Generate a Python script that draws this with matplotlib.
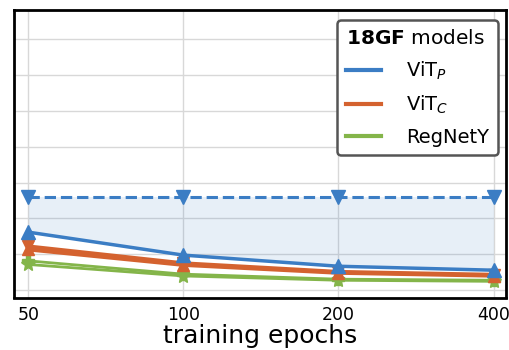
import matplotlib.pyplot as plt
import numpy as np

epochs = ['50', '100', '200', '400']
vit_p_ref = [2.61, 2.61, 2.61, 2.61]      # dashed upper reference
vit_p = [1.62, 0.98, 0.67, 0.56]
vit_c_a = [1.22, 0.75, 0.51, 0.43]
vit_c_b = [1.14, 0.71, 0.49, 0.41]
regnet_a = [0.82, 0.45, 0.31, 0.28]
regnet_b = [0.72, 0.40, 0.28, 0.25]

blue = '#3b7dc4'
orange = '#d4622f'
green = '#84b54a'

x = np.arange(len(epochs))

fig, ax = plt.subplots(figsize=(5.09, 3.5), dpi=100)

ax.fill_between(x, vit_p, vit_p_ref, color=blue, alpha=0.12, lw=0)
ax.plot(x, vit_p_ref, color=blue, ls='--', lw=2.2, marker='v', ms=9.5)

ax.plot(x, regnet_a, color=green, lw=2, marker='P', ms=9)
ax.plot(x, regnet_b, color=green, lw=2, marker='*', ms=10)
ax.plot(x, vit_c_a, color=orange, lw=3, marker='v', ms=9)
ax.plot(x, vit_c_b, color=orange, lw=3, marker='^', ms=9)
ax.plot(x, vit_p, color=blue, lw=2.5, marker='^', ms=9.5)

ax.set_xticks(x)
ax.set_xticklabels(epochs, fontsize=12.5)
ax.set_yticks(np.arange(0, 8))
ax.set_yticklabels([])
ax.tick_params(axis='both', length=0, pad=6)
ax.set_xlim(-0.09, 3.08)
ax.set_ylim(-0.2, 7.8)
ax.grid(True, color='#d8d8d8', lw=1)
ax.set_axisbelow(True)
for s in ax.spines.values():
    s.set_linewidth(2)
    s.set_color('black')
ax.set_xlabel('training epochs', fontsize=18, labelpad=0)

handles = [plt.Line2D([], [], color=c, lw=3) for c in (blue, orange, green)]
leg = ax.legend(handles, ['ViT$_P$', 'ViT$_C$', 'RegNetY'],
                title=r'$\bf{18GF}$ models', fontsize=14, title_fontsize=14.5,
                loc='upper right', frameon=True, fancybox=True,
                handlelength=1.8, handletextpad=1.3, borderpad=0.45,
                labelspacing=0.6, borderaxespad=0,
                bbox_to_anchor=(0.984, 0.965))
leg.get_frame().set_edgecolor('#555555')
leg.get_frame().set_linewidth(1.8)
leg.get_frame().set_alpha(1)
leg._legend_box.align = 'left'

plt.subplots_adjust(left=0.028, right=0.994, top=0.971, bottom=0.15)
plt.savefig('out.png')
